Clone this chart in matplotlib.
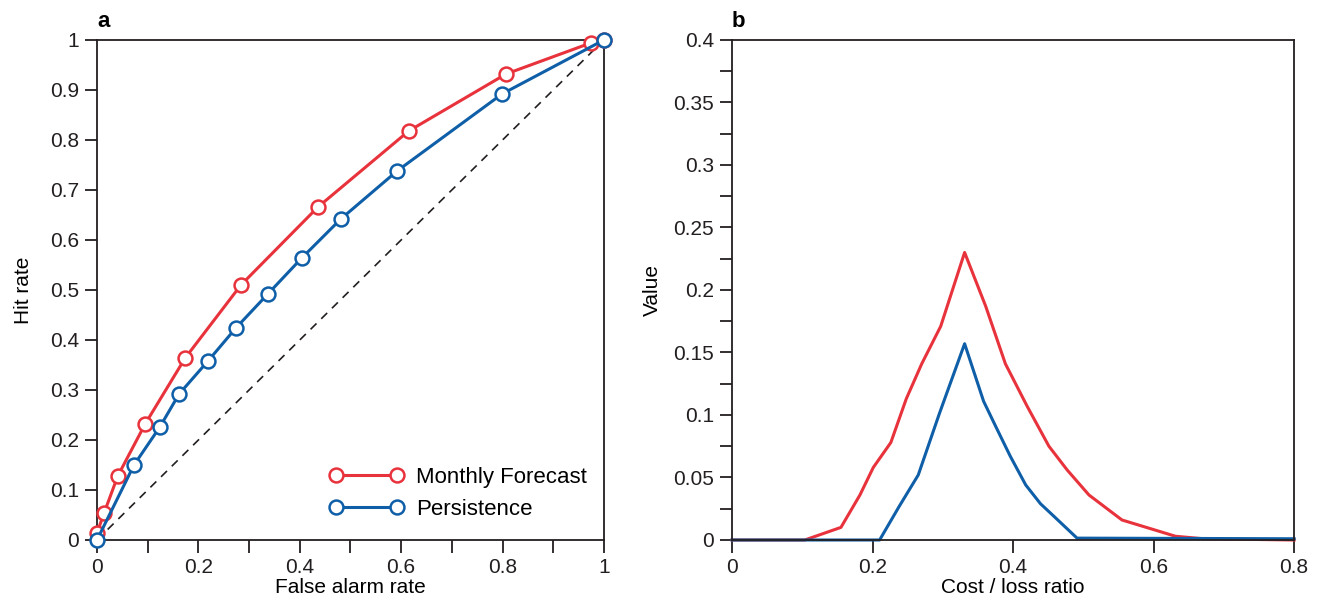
import numpy as np
import matplotlib.pyplot as plt
from matplotlib.ticker import MultipleLocator, FixedLocator

plt.rcParams['font.family'] = ['Liberation Sans', 'DejaVu Sans']

# panel a: ROC curves
far_fc = [0.0, 0.014, 0.041, 0.095, 0.174, 0.284, 0.436, 0.615, 0.807, 0.974, 1.0]
hit_fc = [0.014, 0.054, 0.128, 0.232, 0.364, 0.510, 0.666, 0.818, 0.932, 0.994, 1.0]
far_ps = [0.0, 0.073, 0.124, 0.162, 0.219, 0.274, 0.337, 0.404, 0.481, 0.592, 0.799, 1.0]
hit_ps = [0.0, 0.150, 0.226, 0.292, 0.358, 0.424, 0.492, 0.564, 0.642, 0.738, 0.892, 1.0]

# panel b: value vs cost/loss ratio
cl_fc = [0.0, 0.1035, 0.155, 0.182, 0.201, 0.226, 0.248, 0.270, 0.297, 0.331, 0.361,
         0.389, 0.420, 0.451, 0.477, 0.508, 0.555, 0.596, 0.631, 0.671, 0.8]
val_fc = [0.0, 0.0, 0.0101, 0.036, 0.058, 0.078, 0.113, 0.141, 0.171, 0.230, 0.187,
          0.141, 0.107, 0.075, 0.056, 0.036, 0.016, 0.009, 0.003, 0.001, 0.0]
cl_ps = [0.0, 0.210, 0.238, 0.265, 0.295, 0.331, 0.358, 0.376, 0.396, 0.418, 0.439,
         0.458, 0.491, 0.8]
val_ps = [0.0, 0.0, 0.027, 0.052, 0.101, 0.157, 0.111, 0.090, 0.067, 0.044, 0.029,
          0.019, 0.0015, 0.001]

red = '#e8323c'
blue = '#0f5fa8'
axcol = '#231f20'
fs = 15

fig = plt.figure(figsize=(13.25, 6.01), dpi=100)
ax1 = fig.add_axes([0.0732, 0.1015, 0.3826, 0.832])
ax2 = fig.add_axes([0.5525, 0.1015, 0.4242, 0.832])

mk = dict(marker='o', markersize=10, markerfacecolor='white', markeredgewidth=1.8, lw=2.2)
ax1.plot([0, 1], [0, 1], ls=(0, (5, 4)), color=axcol, lw=1.2)
ax1.plot(far_fc, hit_fc, color=red, label='Monthly Forecast', clip_on=False, zorder=3, **mk)
ax1.plot(far_ps, hit_ps, color=blue, label='Persistence', clip_on=False, zorder=4, **mk)
ax1.set_xlim(0, 1)
ax1.set_ylim(0, 1)
ax1.xaxis.set_major_locator(FixedLocator([0, 0.2, 0.4, 0.6, 0.8, 1]))
ax1.set_xticklabels(['0', '0.2', '0.4', '0.6', '0.8', '1'])
ax1.xaxis.set_minor_locator(MultipleLocator(0.1))
yt = np.round(np.arange(0, 1.01, 0.1), 1)
ax1.set_yticks(yt)
ax1.set_yticklabels(['0'] + ['%g' % v for v in yt[1:]])
ax1.set_xlabel('False alarm rate', fontsize=fs, labelpad=1)
ax1.set_ylabel('Hit rate', fontsize=fs, labelpad=12)
leg = ax1.legend(loc='center left', bbox_to_anchor=(0.459, 0.093), frameon=False, numpoints=2,
                 fontsize=16, handlelength=3.35, handletextpad=0.55, labelspacing=0.5,
                 borderpad=0, borderaxespad=0)
ax1.text(0.0, 1.015, 'a', transform=ax1.transAxes, fontsize=16, fontweight='bold', va='bottom')

ax2.plot(cl_fc, val_fc, color=red, lw=2.2, clip_on=False)
ax2.plot(cl_ps, val_ps, color=blue, lw=2.2, clip_on=False)
ax2.set_xlim(0, 0.8)
ax2.set_ylim(0, 0.4)
ax2.set_xticks([0, 0.2, 0.4, 0.6, 0.8])
ax2.set_xticklabels(['0', '0.2', '0.4', '0.6', '0.8'])
yt2 = np.round(np.arange(0, 0.401, 0.05), 2)
ax2.set_yticks(yt2)
ax2.set_yticklabels(['0'] + ['%g' % v for v in yt2[1:]])
ax2.yaxis.set_minor_locator(MultipleLocator(0.025))
ax2.set_xlabel('Cost / loss ratio', fontsize=fs, labelpad=1)
ax2.set_ylabel('Value', fontsize=fs, labelpad=8)
ax2.text(0.0, 1.015, 'b', transform=ax2.transAxes, fontsize=16, fontweight='bold', va='bottom')

for ax in (ax1, ax2):
    for s in ax.spines.values():
        s.set_color(axcol)
        s.set_linewidth(1.3)
    ax.tick_params(which='both', direction='out', top=False, right=False, color=axcol,
                   labelsize=fs, labelcolor=axcol, width=1.3)
    ax.tick_params(which='major', length=9, pad=4)
    ax.tick_params(which='minor', length=9)

fig.savefig('out.png', dpi=100)
